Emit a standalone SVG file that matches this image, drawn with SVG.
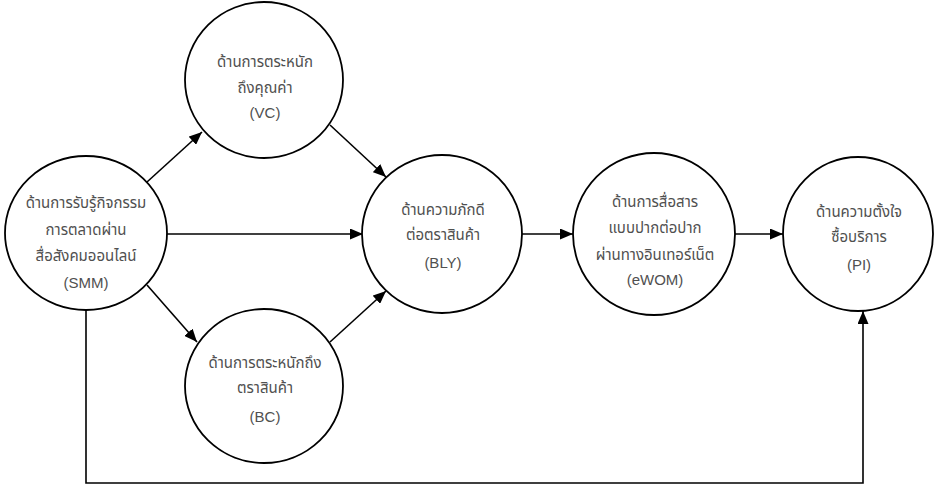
<svg xmlns="http://www.w3.org/2000/svg" width="935" height="485" viewBox="0 0 935 485">
<style>
.node ellipse{fill:#fff;stroke:#000;stroke-width:1.8}
.node text{font-family:"Noto Sans Thai","Noto Sans","Liberation Sans",sans-serif;font-size:15px;fill:#505050;text-anchor:middle}
.node text.en{font-family:"Liberation Sans",Arial,sans-serif;font-size:15px}
#connectors path{fill:none;stroke:#000;stroke-width:1.6}
</style>
<defs>
<marker id="arr" viewBox="0 0 13 11" refX="13" refY="5.5" markerWidth="13" markerHeight="11" orient="auto" markerUnits="userSpaceOnUse">
<path d="M0,0 L13,5.5 L0,11 Z" fill="#000"/>
</marker>
</defs>
<rect width="935" height="485" fill="#fff"/>
<g id="connectors">
<path d="M147,182 L202,132" marker-end="url(#arr)"/>
<path d="M330,125 L386,177" marker-end="url(#arr)"/>
<path d="M167,234 L363,234" marker-end="url(#arr)"/>
<path d="M147,285 L197,342" marker-end="url(#arr)"/>
<path d="M330,342 L386,291" marker-end="url(#arr)"/>
<path d="M522,234 L573,234" marker-end="url(#arr)"/>
<path d="M735,234 L783,234" marker-end="url(#arr)"/>
<path d="M86,309 L86,483 L863,483 L863,311" marker-end="url(#arr)"/>
</g>
<g id="SMM" class="node">
<ellipse cx="86" cy="233" rx="81" ry="77"/>
<text x="86" y="208">ด้านการรับรู้กิจกรรม</text>
<text x="86" y="235">การตลาดผ่าน</text>
<text x="86" y="261">สื่อสังคมออนไลน์</text>
<text class="en" x="86" y="288">(SMM)</text>
</g>
<g id="VC" class="node">
<ellipse cx="264" cy="80" rx="79" ry="78"/>
<text x="265" y="67">ด้านการตระหนัก</text>
<text x="265" y="93">ถึงคุณค่า</text>
<text class="en" x="265" y="118">(VC)</text>
</g>
<g id="BC" class="node">
<ellipse cx="264" cy="386" rx="79" ry="77"/>
<text x="265" y="368">ด้านการตระหนักถึง</text>
<text x="265" y="393">ตราสินค้า</text>
<text class="en" x="265" y="422">(BC)</text>
</g>
<g id="BLY" class="node">
<ellipse cx="442" cy="234" rx="80" ry="79"/>
<text x="443" y="215">ด้านความภักดี</text>
<text x="443" y="240">ต่อตราสินค้า</text>
<text class="en" x="443" y="268">(BLY)</text>
</g>
<g id="eWOM" class="node">
<ellipse cx="654" cy="234" rx="81" ry="81"/>
<text x="655" y="207">ด้านการสื่อสาร</text>
<text x="655" y="233">แบบปากต่อปาก</text>
<text x="655" y="260">ผ่านทางอินเทอร์เน็ต</text>
<text class="en" x="655" y="285">(eWOM)</text>
</g>
<g id="PI" class="node">
<ellipse cx="858" cy="234" rx="75" ry="77"/>
<text x="859" y="217">ด้านความตั้งใจ</text>
<text x="859" y="242">ซื้อบริการ</text>
<text class="en" x="859" y="270">(PI)</text>
</g>
</svg>
